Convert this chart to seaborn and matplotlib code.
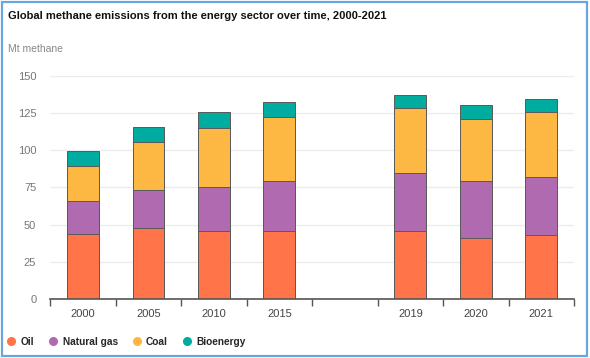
import pandas as pd
import matplotlib.pyplot as plt
import seaborn as sns
from matplotlib.patches import Rectangle
from matplotlib.lines import Line2D

# Data (Mt methane)
years = ["2000", "2005", "2010", "2015", "", "2019", "2020", "2021"]
oil = [44, 48, 46, 46, 0, 45.6, 41.1, 42.7]
natural_gas = [22, 25.5, 29.6, 33.6, 0, 39, 38.2, 39.3]
coal = [23.5, 32, 39.5, 42.7, 0, 43.6, 41.5, 43.5]
bioenergy = [10, 10.3, 10.3, 10.1, 0, 9.2, 9.4, 8.7]

sources = ["Oil", "Natural gas", "Coal", "Bioenergy"]
colors = ["#FF7549", "#B06AB0", "#FDB743", "#00AB9F"]

df = pd.DataFrame({"year": years, "Oil": oil, "Natural gas": natural_gas,
                   "Coal": coal, "Bioenergy": bioenergy})

sns.set_style("white")
plt.rcParams['font.family'] = ['Liberation Sans', 'DejaVu Sans']

fig = plt.figure(figsize=(5.9, 3.58), dpi=100)
ax = fig.add_axes([0.085, 0.165, 0.888, 0.623])

# stacked bars: draw cumulative totals from the top layer down
cum = df[sources].cumsum(axis=1)
for src, col in reversed(list(zip(sources, colors))):
    sns.barplot(x=df["year"], y=cum[src], color=col, width=0.485,
                edgecolor="#5a5a5a", linewidth=0.7, saturation=1, ax=ax)

ax.set_ylim(0, 150)
ax.set_xlim(-0.5, len(years) - 0.5)
ax.set_yticks([0, 25, 50, 75, 100, 125, 150])
ax.yaxis.grid(True, color="#ececec", linewidth=1)
ax.set_axisbelow(True)
for s in ["top", "right", "left"]:
    ax.spines[s].set_visible(False)
ax.spines["bottom"].set_color("#555555")
ax.spines["bottom"].set_linewidth(1.2)

ax.set_xticks(range(len(years)))
ax.set_xticklabels(years)
ax.set_xticks([i - 0.5 for i in range(len(years) + 1)], minor=True)
ax.tick_params(axis="x", which="major", bottom=False, length=0, pad=7,
               labelsize=8, labelcolor="#444444")
ax.tick_params(axis="x", which="minor", bottom=True, length=5, width=1,
               color="#555555", direction="out")
ax.tick_params(axis="y", length=0, pad=10, labelsize=8, labelcolor="#777777")
ax.set_xlabel("")
ax.set_ylabel("")

fig.text(0.014, 0.955, "Global methane emissions from the energy sector over time, 2000-2021",
         fontsize=8, fontweight="bold", color="#111111", va="center")
fig.text(0.014, 0.862, "Mt methane", fontsize=7.5, color="#888888", va="center")

handles = [Line2D([], [], marker="o", linestyle="", color=c, markersize=5.5) for c in colors]
leg = fig.legend(handles, sources, loc="center left", bbox_to_anchor=(0.005, 0.045),
                 ncol=4, frameon=False, borderaxespad=0, borderpad=0.4,
                 handlelength=0.85, handletextpad=0.5, columnspacing=1.45,
                 prop={"size": 7.3, "weight": "bold"})

# blue frame around the picture
fig.patches.append(Rectangle((0.003, 0.006), 0.992, 0.989, transform=fig.transFigure,
                             fill=False, edgecolor="#6AA5DD", linewidth=1.6))

fig.savefig("out.png", dpi=100)
